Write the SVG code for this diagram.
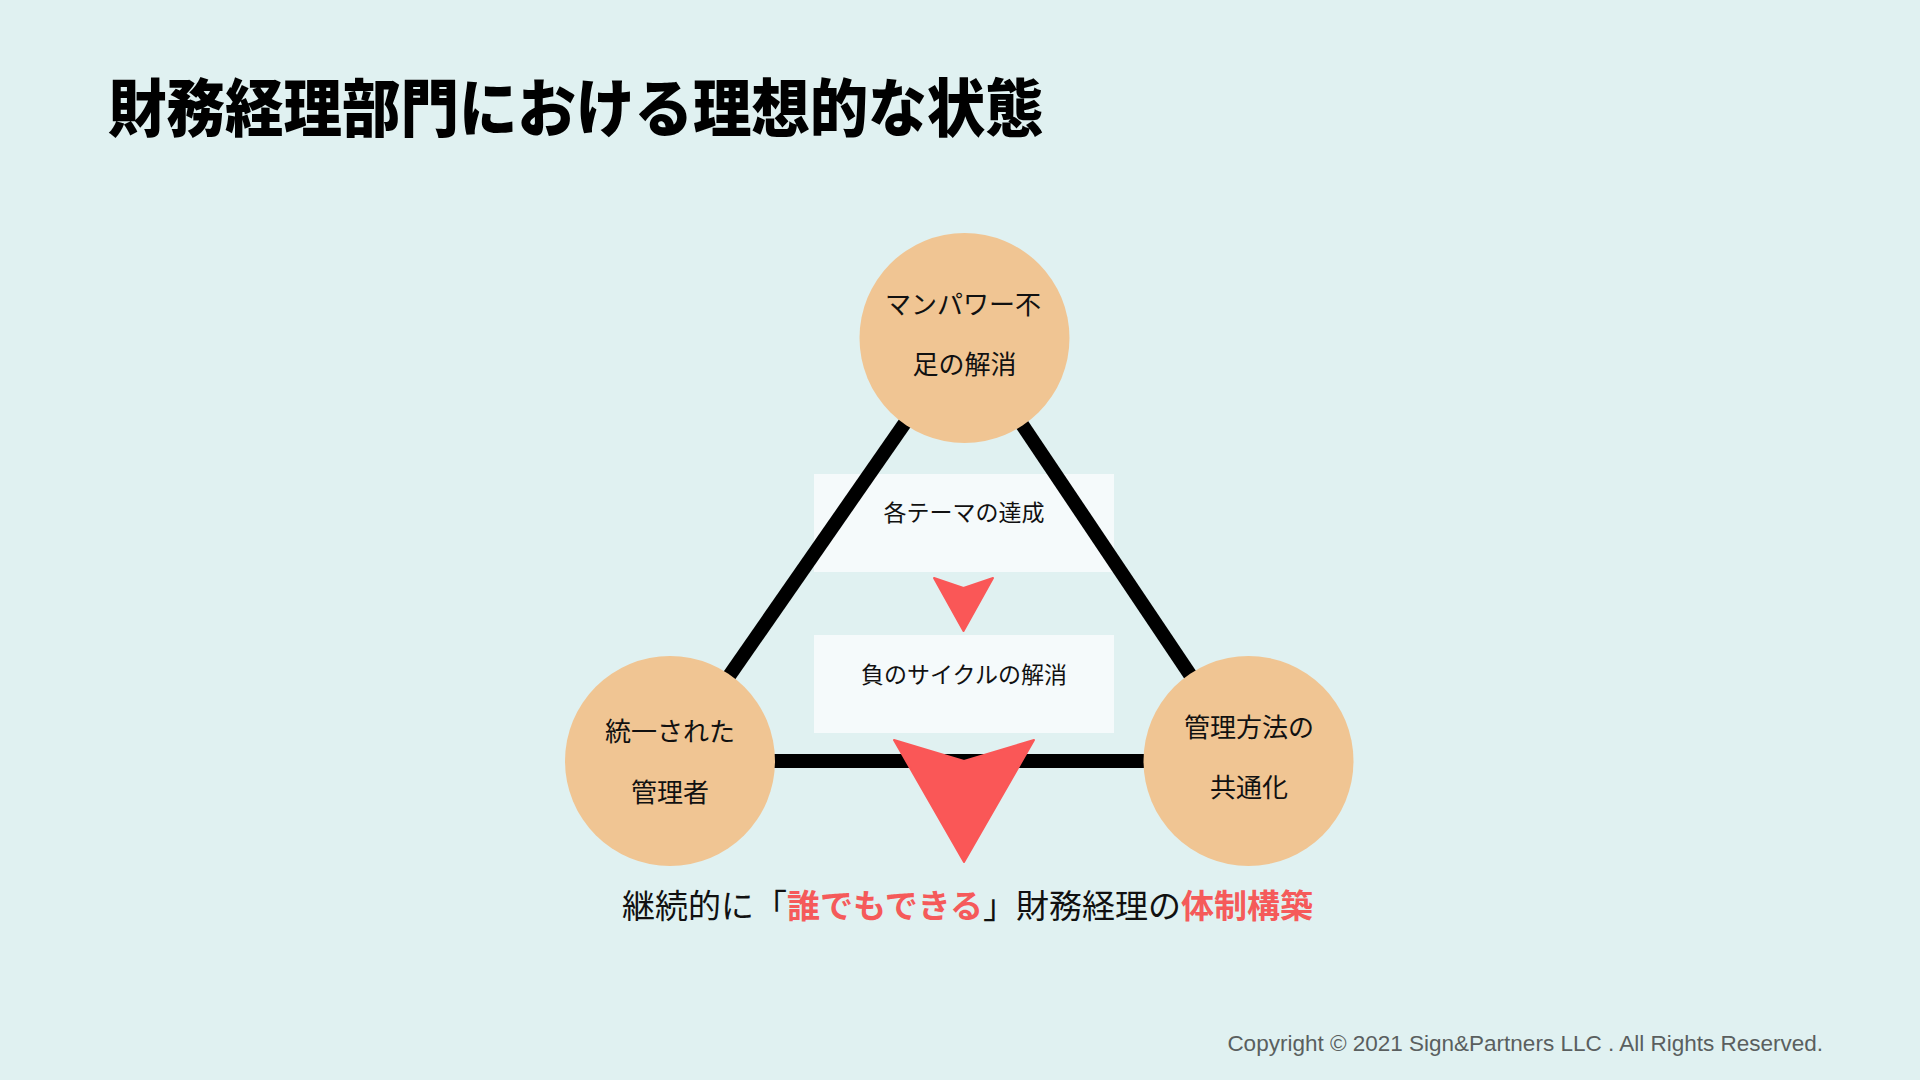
<svg xmlns="http://www.w3.org/2000/svg" width="1920" height="1080" viewBox="0 0 1920 1080">
  <style>
    .jp { font-family: "Noto Sans CJK JP", "Noto Sans", sans-serif; }
    .node-circle { fill: #F0C593; }
    .node-text { font-size: 26px; fill: #111111; text-anchor: middle; }
    .box { fill: #F5FAFB; }
    .box-text { font-size: 23px; fill: #111111; text-anchor: middle; }
    .edge { stroke: #000000; stroke-width: 14; fill: none; }
    .arrow { fill: #FA5757; stroke: #FA5757; stroke-width: 2; stroke-linejoin: round; }
    .hl { fill: #F55A5A; font-weight: 700; }
  </style>
  <rect x="0" y="0" width="1920" height="1080" fill="#E0F1F1"/>

  <text class="jp" transform="translate(108,131) scale(1,1.077)" font-size="58.5" font-weight="900" fill="#000000">財務経理部門における理想的な状態</text>

  <g id="step-boxes">
    <g id="box-themes">
      <rect class="box" x="814" y="474" width="300" height="98"/>
      <text class="jp box-text" x="964" y="521">各テーマの達成</text>
    </g>
    <g id="box-cycle">
      <rect class="box" x="814" y="635" width="300" height="98"/>
      <text class="jp box-text" x="964" y="683">負のサイクルの解消</text>
    </g>
  </g>

  <g id="connectors">
    <line class="edge" x1="964" y1="338" x2="670" y2="761"/>
    <line class="edge" x1="964" y1="338" x2="1248" y2="761"/>
    <line class="edge" x1="670" y1="761" x2="1248" y2="761"/>
  </g>

  <g id="node-manpower">
    <circle class="node-circle" cx="964.5" cy="338" r="105"/>
    <text class="jp node-text" x="963" y="314">マンパワー不</text>
    <text class="jp node-text" x="964.5" y="374">足の解消</text>
  </g>
  <g id="node-manager">
    <circle class="node-circle" cx="670" cy="761" r="105"/>
    <text class="jp node-text" x="670" y="741">統一された</text>
    <text class="jp node-text" x="670" y="802">管理者</text>
  </g>
  <g id="node-method">
    <circle class="node-circle" cx="1248.5" cy="761" r="105"/>
    <text class="jp node-text" x="1249" y="737">管理方法の</text>
    <text class="jp node-text" x="1249" y="797">共通化</text>
  </g>

  <g id="arrows">
    <polygon class="arrow" points="934,578 963.5,588 993,578 963.5,631"/>
    <polygon class="arrow" points="894,740 964,761 1034,740 964,862"/>
  </g>

  <text class="jp" x="622" y="918" font-size="33" fill="#111111">継続的に「<tspan class="hl">誰でもできる</tspan>」財務経理の<tspan class="hl">体制構築</tspan></text>

  <text x="1823" y="1051" font-family="'Liberation Sans', Arial, sans-serif" font-size="22.5" fill="#5A5F5F" text-anchor="end">Copyright © 2021 Sign&amp;Partners LLC . All Rights Reserved.</text>
</svg>
